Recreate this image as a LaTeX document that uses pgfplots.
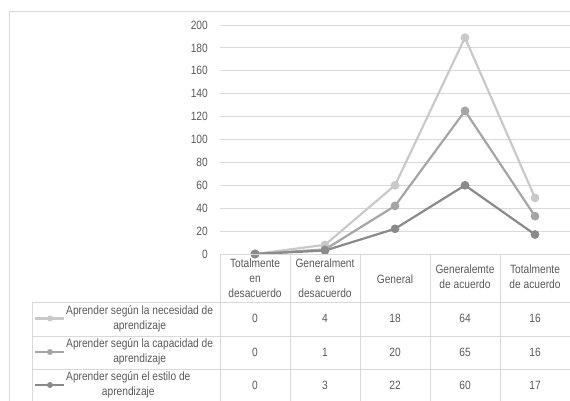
\documentclass[border=0pt]{standalone}
\usepackage{pgfplots}
\pgfplotsset{compat=1.18}
\usepackage{fontspec}
\setmainfont{Liberation Sans}[FakeStretch=0.85]
\definecolor{cLight}{HTML}{C9C9C9}
\definecolor{cMid}{HTML}{A5A5A5}
\definecolor{cDark}{HTML}{8A8A8A}
\definecolor{gridc}{HTML}{D9D9D9}
\definecolor{txt}{HTML}{595959}
\newcommand{\tf}{\fontsize{12}{14.8}\selectfont}
\begin{document}
\begin{tikzpicture}[x=1pt,y=1pt]
\path[use as bounding box] (0,0) rectangle (570,401);
\draw[gridc, line width=0.8pt] (9,0) -- (9,390) -- (570,390);
\begin{axis}[
 at={(220pt,147pt)}, anchor=south west,
 scale only axis, width=350pt, height=229pt,
 xmin=-0.5, xmax=4.5, ymin=0, ymax=200,
 xtick=\empty, ytick={0,20,...,200},
 ymajorgrids, grid style={gridc, line width=0.8pt},
 axis line style={draw=none}, major tick length=0pt,
 yticklabel style={font=\tf, text=txt, anchor=east, inner sep=0pt, xshift=-12pt},
 /pgf/number format/assume math mode=true,
 stack plots=y, clip=false,
 every axis plot/.append style={line width=2.2pt, mark=*, mark size=3.2pt},
]
% Aprender segun el estilo de aprendizaje (bottom of stack)
\addplot[cDark, mark options={fill=cDark, draw=cDark}] coordinates {(0,0) (1,3) (2,22) (3,60) (4,17)};
% Aprender segun la capacidad de aprendizaje
\addplot[cMid, mark options={fill=cMid, draw=cMid}] coordinates {(0,0) (1,1) (2,20) (3,65) (4,16)};
% Aprender segun la necesidad de aprendizaje
\addplot[cLight, mark options={fill=cLight, draw=cLight}] coordinates {(0,0) (1,4) (2,18) (3,64) (4,16)};
\end{axis}
% data table grid
\begin{scope}[gridc, line width=0.8pt]
\draw (220,147) -- (570,147);
\draw (32,99) -- (570,99);
\draw (32,65) -- (570,65);
\draw (32,32) -- (570,32);
\foreach \xx in {220,290,360,430,500} {\draw (\xx,0) -- (\xx,147);}
\draw (32,0) -- (32,99);
\end{scope}
\begin{scope}[every node/.style={font=\tf, text=txt, align=center, inner sep=0pt}]
\node at (255,123) {Totalmente\\en\\desacuerdo};
\node at (325,123) {Generalment\\e en\\desacuerdo};
\node at (395,122) {General};
\node at (465,124) {Generalemte\\de acuerdo};
\node at (535,124) {Totalmente\\de acuerdo};
\node[anchor=west] at (66,82.5) {Aprender según la necesidad de\\aprendizaje};
\node[anchor=west] at (66,49) {Aprender según la capacidad de\\aprendizaje};
\node[anchor=west] at (66,16) {Aprender según el estilo de\\aprendizaje};
\foreach \v [count=\i from 0] in {0,4,18,64,16} {\node at (255+70*\i,82.5) {\v};}
\foreach \v [count=\i from 0] in {0,1,20,65,16} {\node at (255+70*\i,49) {\v};}
\foreach \v [count=\i from 0] in {0,3,22,60,17} {\node at (255+70*\i,16) {\v};}
\end{scope}
% legend keys inside the table
\draw[cLight, line width=2.2pt] (35,82.5) -- (64,82.5); \fill[cLight] (50,82.5) circle (3);
\draw[cMid, line width=2.2pt] (35,49) -- (64,49); \fill[cMid] (50,49) circle (3);
\draw[cDark, line width=2.2pt] (35,16) -- (64,16); \fill[cDark] (50,16) circle (3);
\end{tikzpicture}
\end{document}
